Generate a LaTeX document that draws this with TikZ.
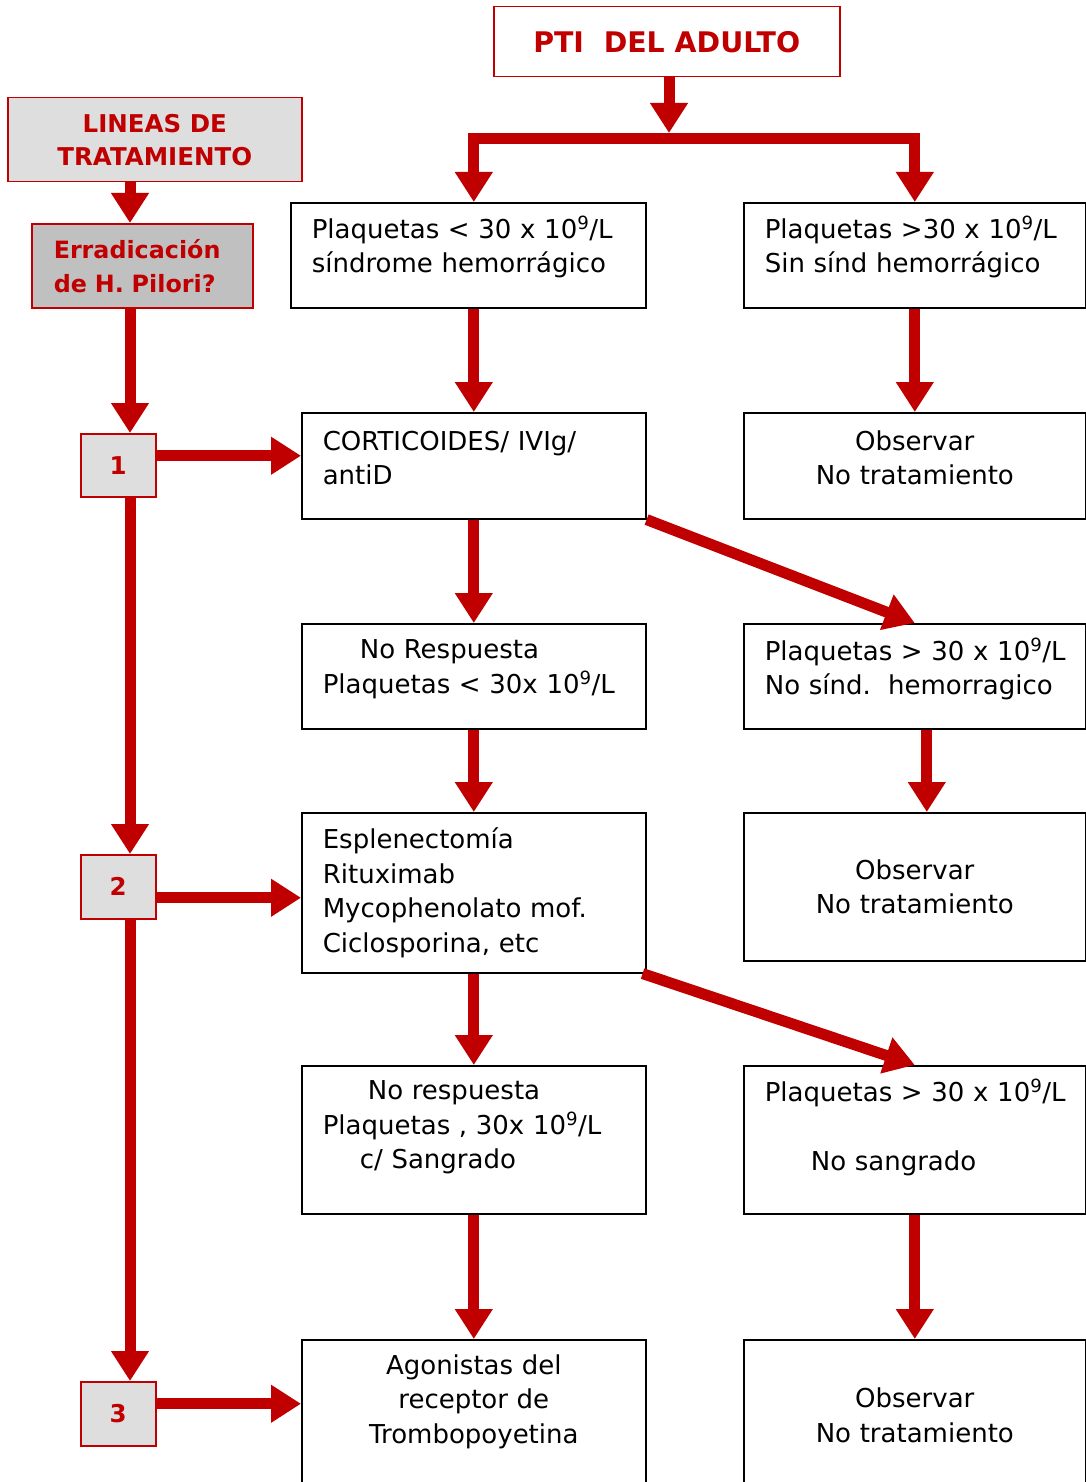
\documentclass[tikz,border=0pt]{standalone}
\usepackage{fontspec}
\setmainfont{DejaVu Sans}
\usepackage{tikz}
\usetikzlibrary{arrows.meta, positioning}

\definecolor{pilred}{HTML}{C00000}
\definecolor{lightgray}{HTML}{DEDEDE}
\definecolor{midgray}{HTML}{C0C0C0}

\newcommand{\txt}{\fontsize{26}{34.5}\selectfont}
\newcommand{\redtxt}{\fontsize{24.5}{33}\selectfont\bfseries}
% extra depth under the last line, lifts the text in its box
\newcommand{\lift}[1]{\rule[-#1]{0pt}{0pt}}

\begin{document}
\begin{tikzpicture}[
                x=1pt, y=-1pt,
                >={Triangle[width=36pt,length=30pt]},
                every node/.style={font=\txt},
                box/.style={draw, line width=1.6pt, anchor=north west, inner xsep=21pt, inner ysep=0pt, align=left},
                leftcol/.style={box, minimum width=344pt, text width=302pt},
                rightcol/.style={box, minimum width=342pt, inner xsep=19pt, text width=304pt},
                redbox/.style={draw=pilred, line width=1.5pt, anchor=north west, inner sep=0pt, align=center, text=pilred, font=\redtxt},
                linea/.style={redbox, fill=lightgray, minimum width=75pt},
                flecha/.style={->, draw=pilred, line width=11pt}
              ]
              \useasboundingbox (0,0) rectangle (1086,1482);

              % Title and left column
              \node[redbox, minimum width=346pt, minimum height=70pt, font=\fontsize{28.4}{33}\selectfont\bfseries] (pti) at (493,6) {PTI\ \ DEL ADULTO};
              \node[redbox, fill=lightgray, minimum width=294pt, minimum height=84pt] (lineas) at (7,97) {LINEAS DE\\TRATAMIENTO};
              \node[redbox, fill=midgray, minimum width=221pt, minimum height=84pt, inner xsep=22pt, text width=177pt, align=left, font=\fontsize{23.8}{34}\selectfont\bfseries] (erra) at (31,223) {Erradicación\\de H. Pilori?};
              \node[linea, minimum height=63pt] (uno) at (80,433) {1};
              \node[linea, minimum height=64pt] (dos) at (80,854) {2};
              \node[linea, minimum height=64pt] (tres) at (80,1381) {3};

              % Left branch
              \node[box, minimum width=355pt, text width=313pt, minimum height=105pt] (plaqlow) at (290,202) {Plaquetas < 30 x 10\textsuperscript{9}/L\\síndrome hemorrágico\lift{22pt}};
              \node[leftcol, minimum height=106pt] (corti) at (301,412) {CORTICOIDES/ IVIg/\\antiD\lift{16pt}};
              \node[leftcol, minimum height=105pt] (noresp) at (301,623) {\hspace*{37pt}No Respuesta\\Plaquetas < 30x 10\textsuperscript{9}/L\lift{20pt}};
              \node[leftcol, minimum height=160pt] (esplen) at (301,812) {Esplenectomía\\Rituximab\\Mycophenolato mof.\\Ciclosporina, etc};
              \node[leftcol, minimum height=148pt] (nosang) at (301,1065) {\hspace*{45pt}No respuesta\\Plaquetas , 30x 10\textsuperscript{9}/L\\\hspace*{37pt}c/ Sangrado\lift{30pt}};
              \node[leftcol, minimum height=151pt, align=center] (agon) at (301,1339) {Agonistas del\\receptor de\\Trombopoyetina\lift{33pt}};

              % Right branch
              \node[rightcol, minimum height=105pt] (plaqhigh) at (743,202) {\hspace*{2pt}Plaquetas >30 x 10\textsuperscript{9}/L\\\hspace*{2pt}Sin sínd hemorrágico\lift{22pt}};
              \node[rightcol, minimum height=106pt, align=center] (obs1) at (743,412) {Observar\\No tratamiento\lift{16pt}};
              \node[rightcol, minimum height=105pt] (plaqmid) at (743,623) {\hspace*{2pt}Plaquetas > 30 x 10\textsuperscript{9}/L\\\hspace*{2pt}No sínd.\ \ hemorragico\lift{20pt}};
              \node[rightcol, minimum height=148pt, align=center] (obs2) at (743,812) {Observar\\No tratamiento};
              \node[rightcol, minimum height=148pt] (plaqlast) at (743,1065) {\hspace*{2pt}Plaquetas > 30 x 10\textsuperscript{9}/L\\[34.5pt]\hspace*{48pt}No sangrado\lift{30pt}};
              \node[rightcol, minimum height=151pt, align=center] (obs3) at (743,1339) {Observar\\No tratamiento};

              % Helper points
              \coordinate (split) at (669,139);
              \coordinate (eje) at (130,0);

              % Main flow
              \draw[flecha] (pti.south -| split) -- ([yshift=6pt]split);
              \draw[flecha, <->] ([xshift=5.5pt]plaqlow.north) |- (split) -| (plaqhigh.north);
              \draw[flecha] ([xshift=5.5pt]plaqlow.south) -- (corti.north);
              \draw[flecha] (plaqhigh.south) -- (obs1.north);
              \draw[flecha] (corti.south) -- (noresp.north);
              \draw[flecha] (corti.south east) -- (plaqmid.north);
              \draw[flecha] (noresp.south) -- (esplen.north);
              \draw[flecha] ([xshift=12pt]plaqmid.south) -- ([xshift=12pt]obs2.north);
              \draw[flecha] (esplen.south) -- (nosang.north);
              \draw[flecha] ([xshift=-4pt]esplen.south east) -- (plaqlast.north);
              \draw[flecha] (nosang.south) -- (agon.north);
              \draw[flecha] (plaqlast.south) -- (obs3.north);

              % Treatment lines
              \draw[flecha] (lineas.south -| eje) -- (erra.north -| eje);
              \draw[flecha] (erra.south -| eje) -- (uno.north -| eje);
              \draw[flecha] (uno.south -| eje) -- (dos.north -| eje);
              \draw[flecha] (dos.south -| eje) -- (tres.north -| eje);
              \draw[flecha] ([yshift=9.5pt]uno.east) -- ([yshift=9.5pt]uno.east -| corti.west);
              \draw[flecha] ([yshift=-11pt]dos.east) -- ([yshift=-11pt]dos.east -| esplen.west);
              \draw[flecha] ([yshift=10pt]tres.east) -- ([yshift=10pt]tres.east -| agon.west);
              \end{tikzpicture}
\end{document}
